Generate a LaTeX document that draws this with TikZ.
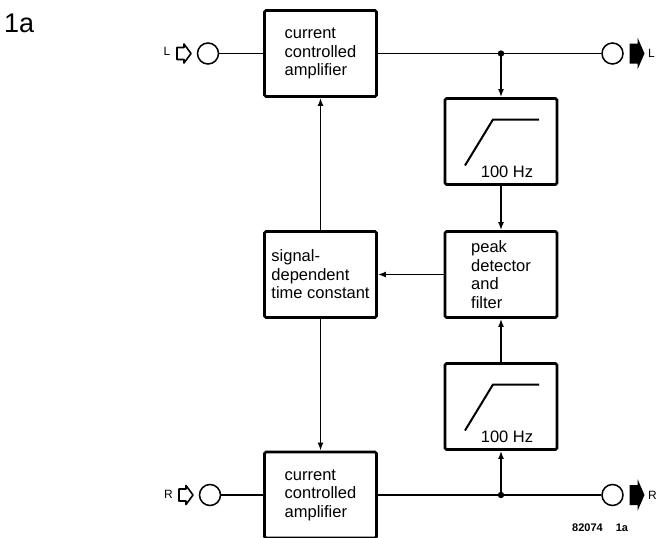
\documentclass[tikz,border=0pt]{standalone}
\usepackage{fontspec}
\setmainfont{Liberation Sans}
\usetikzlibrary{arrows.meta}

\begin{document}
\begin{tikzpicture}[x=1pt,y=-1pt,
  block/.style={draw,line width=2.8pt,rounded corners=1.5pt,minimum width=112pt,minimum height=86pt,
    align=left,inner sep=0pt,font=\fontsize{16.5}{18.5}\selectfont},
  wire/.style={line width=1.6pt},
  flow/.style={wire,-{Latex[length=8pt,width=6pt]}},
  jack/.style={circle,draw,line width=1.5pt,minimum size=21pt,inner sep=0pt},
  tag/.style={inner sep=0pt,font=\fontsize{12}{12}\selectfont}]
\useasboundingbox (0,0) rectangle (656,538);
\node[anchor=base west,inner sep=0pt,font=\fontsize{27}{27}\selectfont] (fig) at (4,32) {1a};
% blocks
\node[block] (ampL) at (320.5,53.5) {current\\controlled\\amplifier};
\node[block] (hpfL) at (501,141.5) {};
\node[block] (peak) at (501,274.5) {peak\\detector\\and\\filter};
\node[block] (tconst) at (320.5,274.5) {signal-\\dependent\\time constant};
\node[block] (hpfR) at (501,406.5) {};
\node[block] (ampR) at (320.5,495) {current\\controlled\\amplifier};
% filter curves
\foreach \f in {hpfL,hpfR} {
  \draw[line width=2pt] ([shift={(-36,24)}]\f.center) -- ([shift={(-8,-22)}]\f.center) -- ([shift={(38,-22)}]\f.center);
  \node[font=\fontsize{16.5}{16.5}\selectfont] (\f-fc) at ([shift={(6,30)}]\f.center) {100 Hz};
}
% sockets
\node[jack] (inL) at (208,53.5) {};
\node[jack] (outL) at (612.5,53.5) {};
\node[jack] (inR) at (210,495) {};
\node[jack] (outR) at (612.5,495) {};
\foreach \j in {inL,inR}
  \draw[wire,line join=round] ([shift={(-31,-6)}]\j.center) -- ++(7,0) -- ++(0,-3.5) -- ++(7,9.5)
    -- ++(-7,9.5) -- ++(0,-3.5) -- ++(-7,0) -- cycle;
\foreach \j in {outL,outR}
  \fill ([shift={(17,-10)}]\j.center) -- ++(8,0) -- ++(0,-6) -- ++(7,16) -- ++(-7,16) -- ++(0,-6)
    -- ++(-8,0) -- cycle;
\node[tag,anchor=east] (inLtag) at ([xshift=-37.5pt,yshift=2pt]inL.center) {L};
\node[tag,anchor=east] (inRtag) at ([xshift=-37pt,yshift=1pt]inR.center) {R};
\node[tag,anchor=west] (outLtag) at ([xshift=35.5pt]outL.center) {L};
\node[tag,anchor=west] (outRtag) at ([xshift=35.5pt]outR.center) {R};
% connections
\coordinate (jL) at (hpfL.north |- ampL.east);
\coordinate (jR) at (hpfR.south |- ampR.east);
\draw[wire] (inL) -- (ampL);
\draw[wire] (ampL) -- (outL);
\draw[wire] (inR) -- (ampR);
\draw[wire] (ampR) -- (outR);
\fill (jL) circle (3.2pt);
\fill (jR) circle (3.2pt);
\draw[flow] (jL) -- (hpfL);
\draw[flow] (hpfL) -- (peak);
\draw[flow] (jR) -- (hpfR);
\draw[flow] (hpfR) -- (peak);
\draw[flow] (peak) -- (tconst);
\draw[flow] (tconst) -- (ampL);
\draw[flow] (tconst) -- (ampR);
\node[anchor=base west,inner sep=0pt,font=\bfseries\fontsize{11}{11}\selectfont] (figno) at (572,531) {82074\hspace{13pt}1a};
\end{tikzpicture}
\end{document}
